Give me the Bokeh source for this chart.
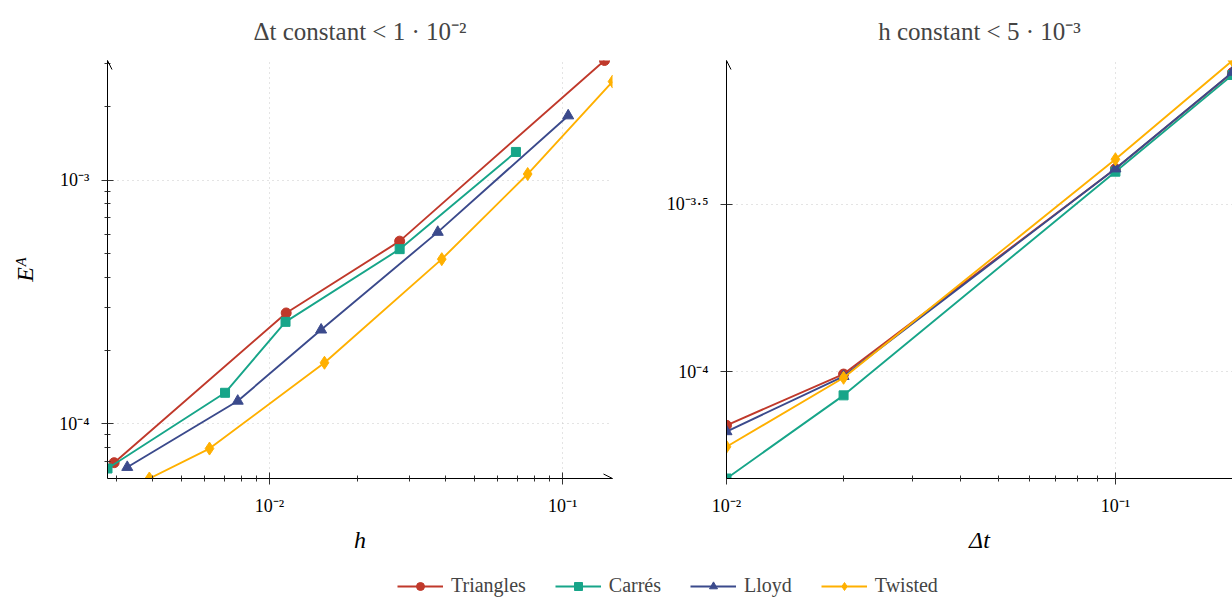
import math
from bokeh.plotting import figure
from bokeh.models import (FixedTicker, CustomJSTickFormatter, Range1d, Arrow, OpenHead,
                          Legend, LegendItem)
from bokeh.layouts import column, row
from bokeh.embed import file_html
from bokeh.resources import INLINE

# ---------------- data ----------------
series_names = ["Triangles", "Carrés", "Lloyd", "Twisted"]
colors = ["#c0392b", "#17a589", "#3b4a8c", "#ffb000"]
markers = ["circle", "square", "triangle", "diamond"]
marker_sizes = [10, 9, 11, 13]

# Left panel: Delta t constant, error vs h
h_tri = [2.95e-3, 1.14e-2, 2.78e-2, 0.139]
E_tri = [6.92e-5, 2.85e-4, 5.62e-4, 3.10e-3]
h_car = [2.80e-3, 7.05e-3, 1.134e-2, 2.78e-2, 6.93e-2]
E_car = [6.55e-5, 1.34e-4, 2.62e-4, 5.21e-4, 1.306e-3]
h_llo = [3.27e-3, 7.79e-3, 1.50e-2, 3.75e-2, 0.1045]
E_llo = [6.63e-5, 1.24e-4, 2.43e-4, 6.12e-4, 1.84e-3]
h_twi = [3.89e-3, 6.24e-3, 1.54e-2, 3.87e-2, 7.60e-2, 0.148]
E_twi = [5.96e-5, 7.91e-5, 1.78e-4, 4.74e-4, 1.06e-3, 2.54e-3]

# Right panel: h constant, error vs Delta t
dt = [0.01, 0.02, 0.1, 0.2]
E_tri_dt = [6.93e-5, 9.85e-5, 4.03e-4, 7.80e-4]
E_car_dt = [4.81e-5, 8.51e-5, 3.95e-4, 7.67e-4]
E_llo_dt = [6.64e-5, 9.70e-5, 4.03e-4, 7.82e-4]
E_twi_dt = [5.98e-5, 9.60e-5, 4.30e-4, 8.47e-4]

titles = ["\u0394t constant < 1 \u00b7 10\u207b\u00b2", "h constant < 5 \u00b7 10\u207b\u00b3"]
left_x_major = [1e-2, 1e-1]
left_x_minor = [3e-3, 4e-3, 5e-3, 6e-3, 7e-3, 8e-3, 9e-3,
                2e-2, 3e-2, 4e-2, 5e-2, 6e-2, 7e-2, 8e-2, 9e-2]
left_y_major = [1e-4, 1e-3]
left_y_minor = [7e-5, 8e-5, 9e-5, 2e-4, 3e-4, 4e-4, 5e-4, 6e-4, 7e-4, 8e-4, 9e-4, 2e-3, 3e-3]
right_x_major = [1e-2, 1e-1]
right_x_minor = [2e-2, 3e-2, 4e-2, 5e-2, 6e-2, 7e-2, 8e-2, 9e-2]
right_y_exponents = [-4, -3.5]

FONT = "Liberation Serif"

fmt = CustomJSTickFormatter(code="""
const e = Math.round(Math.log10(tick) * 10) / 10;
const sup = {'-': '\u207b', '0': '\u2070', '1': '\u00b9', '2': '\u00b2', '3': '\u00b3',
             '4': '\u2074', '5': '\u2075', '6': '\u2076', '7': '\u2077', '8': '\u2078',
             '9': '\u2079', '.': '\u00b7'};
return '10' + String(e).split('').map(c => sup[c]).join('');
""")


def style(p, xt, yt, title):
    p.title.text = title
    p.title.text_font = FONT
    p.title.text_font_size = "25px"
    p.title.text_font_style = "normal"
    p.title.align = "center"
    p.title.standoff = 31
    p.outline_line_color = None
    p.xaxis.ticker = xt
    p.yaxis.ticker = yt
    for ax in (p.xaxis[0], p.yaxis[0]):
        ax.formatter = fmt
        ax.axis_line_color = "black"
        ax.axis_line_width = 1
        ax.major_tick_line_color = "#333333"
        ax.minor_tick_line_color = "#333333"
        ax.major_tick_in = 6
        ax.major_tick_out = 6
        ax.minor_tick_in = 3
        ax.minor_tick_out = 3
        ax.major_label_text_font = FONT
        ax.major_label_text_font_size = "18px"
        ax.major_label_text_color = "black"
        ax.axis_label_text_font = FONT
        ax.axis_label_text_font_size = "24px"
        ax.axis_label_text_font_style = "italic"
        ax.axis_label_text_color = "black"
    p.xaxis.major_label_standoff = 11
    p.yaxis.major_label_standoff = 12
    p.xaxis.axis_label_standoff = 8
    p.yaxis.axis_label_standoff = 18
    for g in (p.xgrid[0], p.ygrid[0]):
        g.grid_line_color = "#c8c8c8"
        g.grid_line_dash = "1 4"
        g.grid_line_width = 1


def draw(p, xs_list, ys_list):
    for xs, ys, c, m, s in zip(xs_list, ys_list, colors, markers, marker_sizes):
        p.line(xs, ys, line_color=c, line_width=1.9)
        p.scatter(xs, ys, marker=m, size=s, fill_color=c, line_color=c)


def head():
    return OpenHead(size=9, line_color="black", line_width=1)


# ---------------- left plot ----------------
all_h = h_tri + h_car + h_llo + h_twi
all_E = E_tri + E_car + E_llo + E_twi
p1 = figure(width=628, height=560, x_axis_type="log", y_axis_type="log",
            x_range=Range1d(min(all_h), max(all_h)), y_range=Range1d(min(all_E), max(all_E)),
            toolbar_location=None, output_backend="svg",
            min_border_left=107, min_border_right=16, min_border_top=60, min_border_bottom=82)
style(p1, FixedTicker(ticks=left_x_major, minor_ticks=left_x_minor),
      FixedTicker(ticks=left_y_major, minor_ticks=left_y_minor), titles[0])
p1.xaxis.axis_label = "h"
p1.yaxis.axis_label = "E\u1d2c"
draw(p1, [h_tri, h_car, h_llo, h_twi], [E_tri, E_car, E_llo, E_twi])
p1.add_layout(Arrow(end=head(), x_start=min(all_h), y_start=min(all_E),
                    x_end=max(all_h), y_end=min(all_E), line_color="black", line_width=1))
p1.add_layout(Arrow(end=head(), x_start=min(all_h), y_start=min(all_E),
                    x_end=min(all_h), y_end=max(all_E), line_color="black", line_width=1))

# ---------------- right plot ----------------
all_Edt = E_tri_dt + E_car_dt + E_llo_dt + E_twi_dt
p2 = figure(width=604, height=560, x_axis_type="log", y_axis_type="log",
            x_range=Range1d(min(dt), max(dt)), y_range=Range1d(min(all_Edt), max(all_Edt)),
            toolbar_location=None, output_backend="svg",
            min_border_left=98, min_border_right=0, min_border_top=60, min_border_bottom=82)
style(p2, FixedTicker(ticks=right_x_major, minor_ticks=right_x_minor),
      FixedTicker(ticks=[10 ** e for e in right_y_exponents], minor_ticks=[]), titles[1])
p2.xaxis.axis_label = "\u0394t"
draw(p2, [dt] * 4, [E_tri_dt, E_car_dt, E_llo_dt, E_twi_dt])
p2.add_layout(Arrow(end=head(), x_start=min(dt), y_start=min(all_Edt),
                    x_end=min(dt), y_end=max(all_Edt), line_color="black", line_width=1))

# ---------------- legend ----------------
p3 = figure(width=1232, height=39, x_range=(0, 1), y_range=(0, 1),
            toolbar_location=None, output_backend="svg",
            x_axis_location=None, y_axis_location=None, min_border=0)
p3.grid.visible = False
p3.outline_line_color = None
items = []
for name, c, m, s in zip(series_names, colors, markers, marker_sizes):
    lr = p3.line([5, 6], [5, 6], line_color=c, line_width=1.9)
    sr = p3.scatter([5], [5], marker=m, size=s - 1, fill_color=c, line_color=c)
    items.append(LegendItem(label=name, renderers=[lr, sr]))
legend = Legend(items=items, orientation="horizontal", location=(397, 2),
                glyph_width=46, glyph_height=20, label_standoff=8, spacing=29,
                padding=0, margin=0, border_line_alpha=0, background_fill_alpha=0,
                label_text_font=FONT, label_text_font_size="20px")
p3.add_layout(legend)

layout = column(row(p1, p2), p3)
open("out.html", "w").write(file_html(layout, INLINE))
